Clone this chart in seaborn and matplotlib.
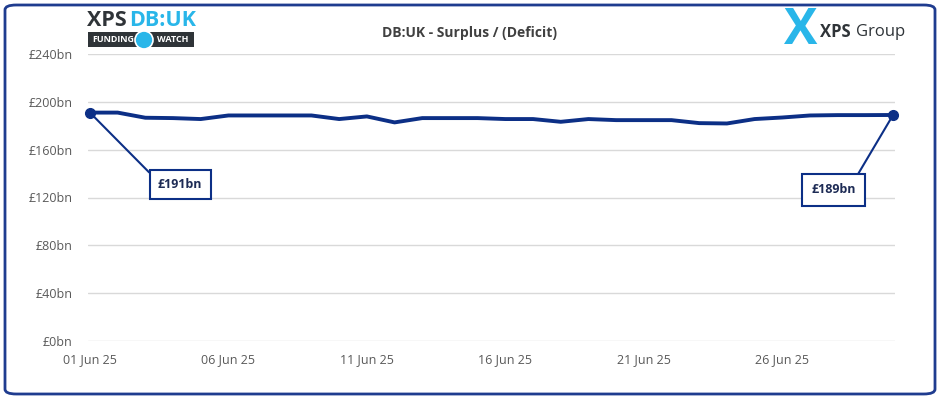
import pandas as pd
import numpy as np
import seaborn as sns
import matplotlib.pyplot as plt
import matplotlib.dates as mdates
from matplotlib.patches import FancyBboxPatch, Ellipse

# Data: DB:UK surplus, £bn, daily through June 2025
dates = pd.date_range('2025-06-01', '2025-06-30', freq='D')
surplus = [191, 191, 186.7, 186.4, 185.6, 188.6, 188.6, 188.6, 188.6, 185.6,
           187.8, 182.8, 186.4, 186.4, 186.4, 185.6, 185.6, 183.3, 185.6, 184.7,
           184.7, 184.7, 182.2, 181.9, 185.6, 186.9, 188.6, 188.9, 188.9, 189]
y_ticks = [0, 40, 80, 120, 160, 200, 240]
title = 'DB:UK - Surplus / (Deficit)'

navy = '#0c2f86'
light_blue = '#29b6e9'
dark_grey = '#2f3438'
text_grey = '#595959'

df = pd.DataFrame({'date': dates, 'surplus': surplus})

sns.set_style('white')
plt.rcParams['font.family'] = ['Open Sans', 'DejaVu Sans']

fig = plt.figure(figsize=(9.4, 3.99), dpi=100)
ax = fig.add_axes([88 / 940, 58 / 399, 807 / 940, 287 / 399])

sns.lineplot(data=df, x='date', y='surplus', ax=ax, color=navy, linewidth=2.8)
# end markers
ends = df.iloc[[0, -1]]
ax.plot(ends['date'], ends['surplus'], 'o', color=navy, markersize=7, zorder=5,
        clip_on=False)

ax.set_ylim(0, 240)
ax.set_yticks(y_ticks)
ax.set_yticklabels([f'£{v}bn' for v in y_ticks])
pad = 0.07
ax.set_xlim(mdates.date2num(dates[0]) - pad, mdates.date2num(dates[-1]) + pad)
ax.set_xticks(dates[::5])
ax.xaxis.set_major_formatter(mdates.DateFormatter('%d %b %y'))
ax.tick_params(axis='both', length=0, labelsize=9, labelcolor=text_grey)
ax.tick_params(axis='x', pad=9)
ax.tick_params(axis='y', pad=11)
ax.set_xlabel('')
ax.set_ylabel('')
ax.grid(axis='y', color='#d9d9d9', linewidth=1)
ax.grid(axis='x', visible=False)
for s in ax.spines.values():
    s.set_visible(False)

# annotations for first and last values
box = dict(boxstyle='square,pad=0.65', facecolor='white', edgecolor=navy, linewidth=1.5)
ax.annotate(f'£{surplus[0]:.0f}bn', xy=(dates[0], surplus[0]), xytext=(65, -52),
            textcoords='offset points', ha='center', va='center', fontsize=9,
            fontweight='bold', color='#1d2b55', bbox=box,
            arrowprops=dict(arrowstyle='-', color=navy, linewidth=1.5, relpos=(0, 0.77),
                            shrinkA=0, shrinkB=0))
ax.annotate(f'£{surplus[-1]:.0f}bn', xy=(dates[-1], surplus[-1]), xytext=(-43, -54),
            textcoords='offset points', ha='center', va='center', fontsize=9,
            fontweight='bold', color='#1d2b55',
            bbox=dict(boxstyle='square,pad=0.75', facecolor='white', edgecolor=navy,
                      linewidth=1.5),
            arrowprops=dict(arrowstyle='-', color=navy, linewidth=1.5, relpos=(0.93, 1),
                            shrinkA=0, shrinkB=0))

fig.text(470 / 940, 1 - 33 / 399, title, ha='center', va='center', fontsize=10,
         fontweight='bold', color='#404040')

# left logo
fig.text(87 / 940, 1 - 21 / 399, 'XPS', ha='left', va='center', fontsize=15.5,
         fontweight='bold', color=dark_grey)
fig.text(129 / 940, 1 - 21 / 399, 'DB:UK', ha='left', va='center', fontsize=15.5,
         fontweight='bold', color=light_blue)
fig.patches.append(FancyBboxPatch((88 / 940, 1 - 47 / 399), 106 / 940, 15 / 399,
                                  boxstyle='square,pad=0', transform=fig.transFigure,
                                  facecolor=dark_grey, edgecolor='none'))
fig.text(92 / 940, 1 - 40 / 399, 'FUNDING', ha='left', va='center', fontsize=6.5,
         fontweight='bold', color='white')
fig.text(157 / 940, 1 - 40 / 399, 'WATCH', ha='left', va='center', fontsize=6.5,
         fontweight='bold', color='white')
fig.patches.append(Ellipse((144 / 940, 1 - 40 / 399), 18 / 940, 18 / 399,
                           transform=fig.transFigure, facecolor=light_blue,
                           edgecolor='white', linewidth=1.2))

# right logo
fig.text(801 / 940, 1 - 31 / 399, 'X', ha='center', va='center', fontsize=36,
         fontweight='bold', color=light_blue)
fig.text(820 / 940, 1 - 32 / 399, 'XPS', ha='left', va='center', fontsize=12,
         fontweight='bold', color=dark_grey)
fig.text(856 / 940, 1 - 32 / 399, 'Group', ha='left', va='center', fontsize=12,
         color=dark_grey)

# rounded frame
fig.patches.append(FancyBboxPatch((5 / 940, 5 / 399), 930 / 940, 389 / 399,
                                  boxstyle='round,pad=0,rounding_size=0.012',
                                  transform=fig.transFigure, facecolor='none',
                                  edgecolor='#1f3c8f', linewidth=2))

fig.savefig('out.png', dpi=100)
